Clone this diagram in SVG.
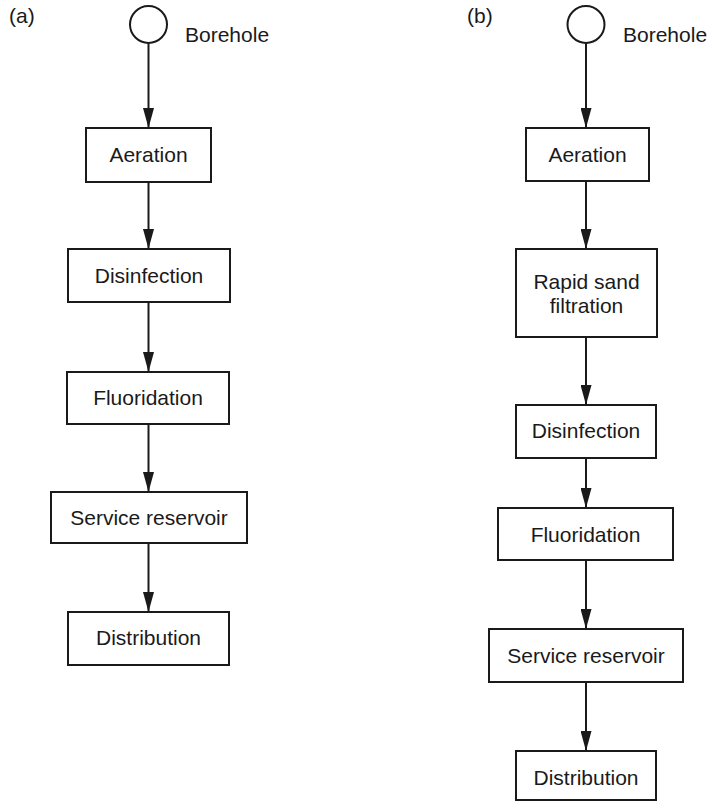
<svg xmlns="http://www.w3.org/2000/svg" width="709" height="803" viewBox="0 0 709 803">
<defs>
<style>
.box{fill:#fff;stroke:#1a1a1a;stroke-width:2}
.t{font-family:"Liberation Sans",Arial,sans-serif;font-size:21px;fill:#1a1a1a;text-anchor:middle}
.l{font-family:"Liberation Sans",Arial,sans-serif;font-size:21px;fill:#1a1a1a}
.c{stroke:#1a1a1a;stroke-width:2;fill:none;marker-end:url(#ah)}
</style>
<marker id="ah" markerUnits="userSpaceOnUse" markerWidth="20" markerHeight="11" refX="20" refY="5.5" orient="auto">
<path d="M0,0 L20,5.5 L0,11 z" fill="#1a1a1a"/>
</marker>
</defs>
<rect width="709" height="803" fill="#fff"/>
<text class="l" x="9" y="23">(a)</text>
<text class="l" x="467" y="23">(b)</text>
<g id="connectors">
<line class="c" x1="148.5" y1="43" x2="148.5" y2="128"/>
<line class="c" x1="148.5" y1="182" x2="148.5" y2="249"/>
<line class="c" x1="148.5" y1="302" x2="148.5" y2="372"/>
<line class="c" x1="148.5" y1="424" x2="148.5" y2="492"/>
<line class="c" x1="148.5" y1="543" x2="148.5" y2="612"/>
<line class="c" x1="586" y1="43" x2="586" y2="128"/>
<line class="c" x1="586" y1="181" x2="586" y2="249"/>
<line class="c" x1="586" y1="337" x2="586" y2="405"/>
<line class="c" x1="586" y1="458" x2="586" y2="508"/>
<line class="c" x1="586" y1="560" x2="586" y2="629"/>
<line class="c" x1="586" y1="682" x2="586" y2="751"/>
</g>
<g id="a-borehole">
<circle cx="148.5" cy="24.5" r="18.5" fill="#fff" stroke="#1a1a1a" stroke-width="2"/>
<text class="l" x="185" y="42">Borehole</text>
</g>
<g id="a-aeration"><rect class="box" x="86" y="128" width="125" height="54"/><text class="t" x="148.5" y="162">Aeration</text></g>
<g id="a-disinfection"><rect class="box" x="68" y="249" width="162" height="53"/><text class="t" x="149" y="283">Disinfection</text></g>
<g id="a-fluoridation"><rect class="box" x="67" y="372" width="162" height="52"/><text class="t" x="148" y="405">Fluoridation</text></g>
<g id="a-service"><rect class="box" x="51" y="492" width="196" height="51"/><text class="t" x="149" y="525">Service reservoir</text></g>
<g id="a-distribution"><rect class="box" x="68" y="612" width="161" height="53"/><text class="t" x="148.5" y="645">Distribution</text></g>
<g id="b-borehole">
<circle cx="586" cy="24.5" r="18.5" fill="#fff" stroke="#1a1a1a" stroke-width="2"/>
<text class="l" x="623" y="42">Borehole</text>
</g>
<g id="b-aeration"><rect class="box" x="526" y="128" width="123" height="53"/><text class="t" x="587.5" y="162">Aeration</text></g>
<g id="b-rapid"><rect class="box" x="516" y="249" width="141" height="88"/><text class="t" x="586.5" y="289">Rapid sand</text><text class="t" x="586.5" y="313">filtration</text></g>
<g id="b-disinfection"><rect class="box" x="516" y="405" width="140" height="53"/><text class="t" x="586" y="438">Disinfection</text></g>
<g id="b-fluoridation"><rect class="box" x="498" y="508" width="175" height="52"/><text class="t" x="585.5" y="542">Fluoridation</text></g>
<g id="b-service"><rect class="box" x="489" y="629" width="194" height="53"/><text class="t" x="586" y="663">Service reservoir</text></g>
<g id="b-distribution"><rect class="box" x="516" y="751" width="140" height="49"/><text class="t" x="586" y="785">Distribution</text></g>
</svg>
